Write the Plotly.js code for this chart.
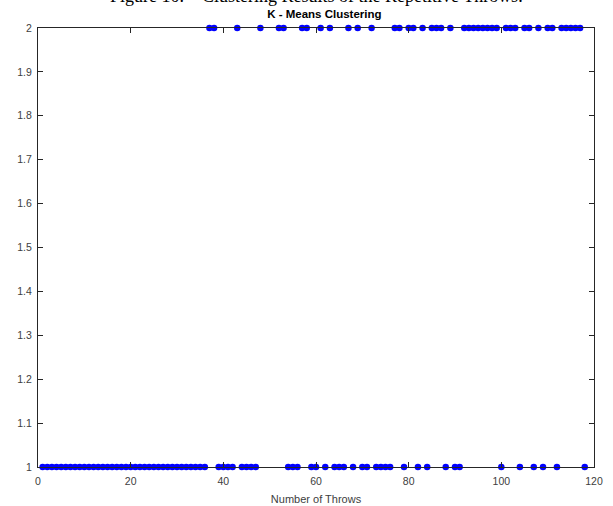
<!DOCTYPE html>
<html>
<head>
<meta charset="utf-8">
<script src="https://cdn.plot.ly/plotly-3.0.1.min.js"></script>
<style>
  html, body { margin: 0; padding: 0; background: #fff; }
  #chart { width: 613px; height: 506px; }
</style>
</head>
<body>
<div id="chart"></div>
<script>
// Throw numbers assigned to cluster 1 (y = 1)
const cluster1Throws = [1,2,3,4,5,6,7,8,9,10,11,12,13,14,15,16,17,18,19,20,21,22,23,24,25,26,27,28,29,30,31,32,33,34,35,36,
  39,40,41,42,44,45,46,47,54,55,56,59,60,62,64,65,66,68,70,71,73,74,75,76,79,82,84,88,90,91,100,104,107,109,112,118];
// Throw numbers assigned to cluster 2 (y = 2)
const cluster2Throws = [37,38,43,48,52,53,57,58,61,63,67,69,72,77,78,80,81,83,85,86,87,89,
  92,93,94,95,96,97,98,99,101,102,103,105,106,108,110,111,113,114,115,116,117];
const clusterLabels = [1, 2];
const xTicks = [0, 20, 40, 60, 80, 100, 120];
const yTicks = [1, 1.1, 1.2, 1.3, 1.4, 1.5, 1.6, 1.7, 1.8, 1.9, 2];
const yTickText = ['1', '1.1', '1.2', '1.3', '1.4', '1.5', '1.6', '1.7', '1.8', '1.9', '2'];

const xs = [], ys = [];
cluster1Throws.forEach(t => { xs.push(t); ys.push(clusterLabels[0]); });
cluster2Throws.forEach(t => { xs.push(t); ys.push(clusterLabels[1]); });

const axisColor = '#262626';
const labelColor = '#404040';
const trace = {
  x: xs, y: ys, type: 'scatter', mode: 'markers',
  marker: { color: '#0000ff', size: 6.5, line: { width: 0 } },
  cliponaxis: false, hoverinfo: 'x+y'
};

const layout = {
  width: 613, height: 506,
  margin: { l: 38, r: 19, t: 28, b: 39 },
  paper_bgcolor: '#fff', plot_bgcolor: '#fff',
  font: { family: 'Liberation Sans, Arial, sans-serif', size: 10, color: labelColor },
  showlegend: false,
  title: {
    text: '<b>K - Means Clustering</b>',
    font: { family: 'Liberation Sans, Arial, sans-serif', size: 11.5, color: '#000' },
    x: 0.515, xanchor: 'center', xref: 'paper',
    y: 1 - 13.5 / 506, yref: 'container', yanchor: 'middle'
  },
  xaxis: {
    range: [0, 120], tickvals: xTicks, ticktext: xTicks.map(String),
    showgrid: false, zeroline: false, automargin: false,
    showline: true, mirror: 'ticks', linecolor: axisColor, linewidth: 1,
    ticks: 'inside', ticklen: 5, tickcolor: axisColor, tickwidth: 1,
    ticklabelstandoff: 4,
    tickfont: { size: 10.5, color: labelColor },
    title: { text: 'Number of Throws', font: { size: 11, color: labelColor }, standoff: 9 }
  },
  yaxis: {
    range: [1, 2], tickvals: yTicks, ticktext: yTickText,
    showgrid: false, zeroline: false, automargin: false,
    showline: true, mirror: 'ticks', linecolor: axisColor, linewidth: 1,
    ticks: 'inside', ticklen: 5, tickcolor: axisColor, tickwidth: 1,
    ticklabelstandoff: 3,
    tickfont: { size: 10.5, color: labelColor }
  },
  annotations: [{
    text: 'Figure 10.    Clustering Results of the Repetitive Throws.',
    xref: 'paper', yref: 'paper', x: 0.5, y: 1 + 19.5 / 439,
    xanchor: 'center', yanchor: 'bottom', showarrow: false,
    font: { family: 'Liberation Serif, Times New Roman, serif', size: 18, color: '#000' }
  }]
};

Plotly.newPlot('chart', [trace], layout, { displayModeBar: false, staticPlot: true });
</script>
</body>
</html>
